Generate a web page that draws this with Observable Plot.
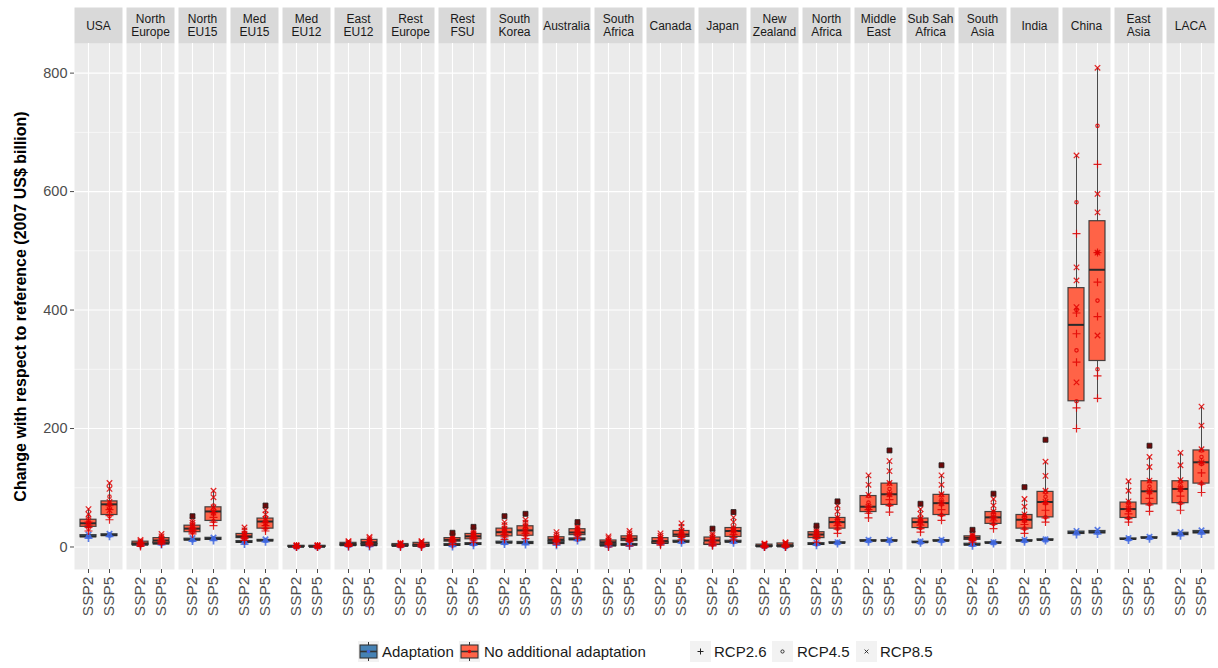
<!DOCTYPE html>
<html>
<head>
<meta charset="utf-8">
<script src="https://cdn.jsdelivr.net/npm/d3@7"></script>
<script src="https://cdn.jsdelivr.net/npm/@observablehq/plot@0.6"></script>
<style>
  html, body { margin: 0; padding: 0; background: #fff; overflow: hidden; width: 1218px; height: 668px; }
  body { font-family: "Liberation Sans", Arial, sans-serif; position: relative; }
  #chart svg { display: block; max-width: none; }
  g[aria-label="y-axis label"] text { font-weight: bold; fill: #000; font-size: 16px; }
  #legend { position: absolute; top: 641px; left: 0; width: 1218px; height: 22px; font-size: 15px; color: #1a1a1a; }
  #legend .key { position: absolute; top: 0; width: 21px; height: 21px; background: #F2F2F2; }
  #legend .lab { position: absolute; top: 2px; white-space: nowrap; line-height: 18px; }
</style>
</head>
<body>
<div id="chart"></div>
<div id="legend"></div>
<script>
// ---------- data ----------
const regions = ["USA","North Europe","North EU15","Med EU15","Med EU12","East EU12","Rest Europe","Rest FSU","South Korea","Australia","South Africa","Canada","Japan","New Zealand","North Africa","Middle East","Sub Sah Africa","South Asia","India","China","East Asia","LACA"];
const regionLabels = ["USA","North\nEurope","North\nEU15","Med\nEU15","Med\nEU12","East\nEU12","Rest\nEurope","Rest\nFSU","South\nKorea","Australia","South\nAfrica","Canada","Japan","New\nZealand","North\nAfrica","Middle\nEast","Sub Sah\nAfrica","South\nAsia","India","China","East\nAsia","LACA"];
const ssps = ["SSP2","SSP5"];
const yTicks = [0, 200, 400, 600, 800];
const yMinorTicks = [100, 300, 500, 700];
const rcps = ["RCP2.6","RCP4.5","RCP8.5"];

// box statistics [whisker low, q1, median, q3, whisker high]; order: region x (SSP2, SSP5)
const noAdaptStats = [
  [27,34,40,46,64],[46,54,72,77,108],
  [1,4,6,9,12],[5,7,11,15,22],
  [22,25,31,36,45],[36,44,60,67,95],
  [11,15,18,22,33],[27,31,43,48,62],
  [0,0.5,1,2,3],[0,0.5,1,2,3],
  [1,3,5,7,10],[2,5,8,12,17],
  [0,2,3,5,7],[0,1,4,7,10],
  [4,9,12,15,19],[8,13,18,22,28],
  [13,18,25,31,42],[14,19,28,35,46],
  [5,10,12.5,16.5,25],[15,20,24.5,30,35],
  [0,5,8,11,18],[2,10,14,18,27],
  [3,6,10,15,23],[12,17,21,27,40],
  [2,4,11,16,23],[12,17,27,32,50],
  [0,0.5,2,4,6],[0,0.5,3,6,8],
  [8,15,21,25,31],[23,31,42,49,70],
  [49,59,68,86,121],[59,71,89,107,145],
  [25,32,42,48,64],[45,54,74,88,121],
  [8,12,15.5,18,22],[31,39,50,59,81],
  [23,31,46,54,81],[42,50,76,93,144],
  [200,246,375,437,661],[251,314,468,550,809],
  [42,49,64,75,111],[60,72,94,111,152],
  [62,74,98,111,159],[92,107,143,163,237]
];
const noAdaptOutliers = [
  null,null, null,null, 52,null, null,70, null,null, null,null, null,null,
  24,34, 52,56, null,42, null,null, null,null, 31,59, null,null,
  36,77, null,163, 73,138, 29,90, 101,181, null,null, null,171, null,null
];
const adaptStats = [
  [15,16.5,18,20,21],[18,18.5,20,21.5,22],
  [3,3,4,5.5,6],[4,4.5,6,7.5,8],
  [10,11,12.5,14,15],[11,12,14,15.5,16],
  [5,7,8.5,10,11],[9,9.5,11,12,13],
  [0,0,0.5,1,1],[0,0,0.5,1,1],
  [1,2,3,4,4],[1,2,3,4.5,5],
  [1,1,2,3,3],[1,1,2,3,3],
  [1,2,3.5,5,5],[3,3.5,5,6.5,7],
  [5,6,7.5,9,10],[4,5,7,8.5,9],
  [3,5,7,9,10],[11,11.5,13,14.5,15],
  [1,1.5,2.5,3.5,4],[2,2.5,4,5,5],
  [5,5.5,7,8.5,9],[7,7.5,9,10.5,11],
  [3,3.5,5,6.5,7],[7,7.5,9,10.5,11],
  [0,0.5,1,1.5,2],[0,0.5,1,1.5,2],
  [3,3.5,5,6.5,7],[6,6,7,8,8],
  [9,9.5,10.5,11.5,12],[9,9.5,10.5,11.5,12],
  [7,7,8,9,9.5],[9,9.5,10.5,11.5,12],
  [2,2.5,4,5.5,6],[6,6,7,8,8],
  [9,9.5,10.5,11.5,12],[11,11,12,13,13],
  [21,22,24,26,27],[22,23,25,27,29],
  [12,12.5,13.5,14.5,15],[14,14.5,15.5,16.5,17],
  [19,20,22,24,25],[22,23,25,27,28]
];

// individual points, No additional adaptation
const noAdaptRcp26 = [
  [27,33,37,42],[46,53,63,70],
  [1,3,5,7],[5,7,9,11],
  [22,25,28,31],[36,42,50,58],
  [11,14,16,19],[27,31,36,41],
  [0,0.5,1,1.5],[0,0.5,1,1.5],
  [1,3,4,5],[2,5,6,8],
  [0,2,3,4],[0,1,3,4],
  [4,8,10,12],[8,12,15,17],
  [13,17,21,24],[14,19,23,27],
  [5,9,11,12],[15,19,22,24],
  [0,4,6,8],[2,9,12,14],
  [3,6,8,10],[12,16,19,21],
  [2,4,7,10],[12,16,21,26],
  [0,0.5,1,2],[0,0.5,2,3],
  [8,14,18,21],[23,30,36,41],
  [49,57,63,68],[59,70,80,89],
  [25,31,37,42],[45,53,63,74],
  [8,11,13,15],[31,38,44,50],
  [23,30,38,45],[42,49,62,75],
  [200,235,312,360,395,529],[251,289,389,447,497,646],
  [42,48,56,64],[60,71,82,94],
  [62,73,86,98],[92,106,125,143]
];
const noAdaptRcp45 = [
  [31,38,44,52],[52,66,74,85],
  [3,5,7,9],[7,10,13,15],
  [25,30,34,38],[44,56,63,70],
  [14,18,21,24],[31,40,45,50],
  [0.5,1,1.5,2],[0.5,1,1.5,2],
  [3,5,6,7],[5,8,10,12],
  [2,3,4,5],[1,4,6,7],
  [9,12,14,15],[13,17,20,22],
  [18,24,28,31],[19,27,31,35],
  [10,12,14,16],[20,24,27,30],
  [5,8,10,11],[10,14,16,18],
  [6,10,13,15],[17,21,25,27],
  [4,10,13,16],[17,26,30,33],
  [0.5,2,3,4],[0.5,3,4,6],
  [15,20,23,25],[31,40,45,49],
  [59,66,75,86],[71,88,98,107],
  [32,41,45,48],[54,72,80,88],
  [12,15,17,18],[39,49,55,59],
  [31,44,50,54],[50,74,85,93],
  [246,332,400,582],[300,416,497,711],
  [49,62,70,75],[72,92,102,111],
  [74,96,104,111],[107,140,152,163]
];
const noAdaptRcp85 = [
  [36,45,55,64],[62,76,98,108],
  [5,8,10,12],[10,14,18,22],
  [30,36,41,45],[58,67,84,95],
  [17,22,28,33],[40,47,55,62],
  [1,2,2.5,3],[1,2,2.5,3],
  [5,7,9,10],[8,12,15,17],
  [3,5,6,7],[4,7,9,10],
  [12,15,17,19],[18,22,25,28],
  [25,31,37,42],[28,35,41,46],
  [12,16,21,25],[24,30,33,35],
  [8,11,15,18],[14,18,23,27],
  [10,15,19,23],[21,27,34,40],
  [11,16,20,23],[27,32,42,50],
  [2,4,5,6],[3,6,7,8],
  [21,25,28,31],[42,50,60,70],
  [68,88,105,121],[89,108,128,145],
  [42,48,56,64],[74,89,105,121],
  [15,18,20,22],[50,60,70,81],
  [46,55,68,81],[76,95,120,144],
  [278,405,450,472,661],[357,497,565,596,809],
  [64,77,95,111],[94,112,135,152],
  [98,113,138,159],[143,165,205,237]
];
// individual points, Adaptation
const adaptRcp26 = [15,18, 3,4, 10,11, 5,9, 0,0, 1,1, 1,1, 1,3, 5,4, 3,11, 1,2, 5,7, 3,7, 0,0, 3,6, 9,9, 7,9, 2,6, 9,11, 21,22, 12,14, 19,22];
const adaptRcp45 = [18,20, 4,6, 12,14, 8,11, 0.5,0.5, 3,3, 2,2, 3,5, 7,7, 7,13, 2,4, 7,9, 5,9, 1,1, 5,7, 10.5,10.5, 8,10.5, 4,7, 10.5,12, 24,25, 13.5,15.5, 22,25];
const adaptRcp85 = [21,22, 6,8, 15,16, 11,13, 1,1, 4,5, 3,3, 5,7, 10,9, 10,15, 4,5, 9,11, 7,11, 2,2, 7,8, 12,12, 9.5,12, 6,8, 12,13, 27,29, 15,17, 25,28];

// ---------- tables built from the arrays ----------
const boxes = [], redPts = [], bluePts = [], outliers = [];
regions.forEach((region, i) => ssps.forEach((ssp, j) => {
  const k = i * 2 + j;
  const a = adaptStats[k], n = noAdaptStats[k];
  boxes.push({region, ssp, type: "Adaptation", lo: a[0], q1: a[1], med: a[2], q3: a[3], hi: a[4]});
  boxes.push({region, ssp, type: "No additional adaptation", lo: n[0], q1: n[1], med: n[2], q3: n[3], hi: n[4]});
  [noAdaptRcp26, noAdaptRcp45, noAdaptRcp85].forEach((arr, r) => arr[k].forEach(value => redPts.push({region, ssp, rcp: rcps[r], value})));
  [adaptRcp26, adaptRcp45, adaptRcp85].forEach((arr, r) => bluePts.push({region, ssp, rcp: rcps[r], value: arr[k]}));
  if (noAdaptOutliers[k] != null) outliers.push({region, ssp, value: noAdaptOutliers[k]});
}));

const fillColor = {"Adaptation": "#4682B4", "No additional adaptation": "#FF6347"};
const symbolOf = {"RCP2.6": "plus", "RCP4.5": "circle", "RCP8.5": "times"};
const rOf = {"RCP2.6": 2.7, "RCP4.5": 1.7, "RCP8.5": 2.6};

function boxMarks(type) {
  const data = boxes.filter(d => d.type === type);
  return [
    Plot.ruleX(data, {fx: "region", x: "ssp", y1: "lo", y2: "q1", stroke: "#4a4a4a", strokeWidth: 1}),
    Plot.ruleX(data, {fx: "region", x: "ssp", y1: "q3", y2: "hi", stroke: "#4a4a4a", strokeWidth: 1}),
    Plot.barY(data, {fx: "region", x: "ssp", y1: "q1", y2: "q3", fill: fillColor[type], stroke: "#333", strokeOpacity: 0.9, strokeWidth: 1.2}),
    Plot.tickY(data, {fx: "region", x: "ssp", y: "med", stroke: "#2a2a2a", strokeWidth: 2})
  ];
}
function pointMarks(data, color, sw) {
  return rcps.map(rcp => Plot.dot(data.filter(d => d.rcp === rcp), {
    fx: "region", x: "ssp", y: "value", symbol: symbolOf[rcp], r: rOf[rcp],
    stroke: color, strokeWidth: sw, fill: "none", strokeOpacity: 0.85
  }));
}

const chart = Plot.plot({
  width: 1221, height: 625,
  marginLeft: 67, marginRight: 0, marginTop: 43, marginBottom: 56,
  style: {fontFamily: "'Liberation Sans', Arial, sans-serif", background: "white", maxWidth: "none"},
  fx: {domain: regions, paddingInner: 0.07, paddingOuter: 0, axis: null, label: null},
  x: {domain: ssps, paddingInner: 0.25, paddingOuter: 0.225, label: null},
  y: {domain: [-38, 850], label: null},
  marks: [
    Plot.frame({fill: "#EBEBEB"}),
    Plot.frame({fill: "#D9D9D9", insetTop: -36, insetBottom: 526}),
    Plot.gridY({ticks: yMinorTicks, stroke: "white", strokeOpacity: 1, strokeWidth: 0.6}),
    Plot.gridY({ticks: yTicks, stroke: "white", strokeOpacity: 1, strokeWidth: 1.1}),
    Plot.gridX({stroke: "white", strokeOpacity: 1, strokeWidth: 1.1}),
    Plot.text(regions, {fx: d => d, text: (d, i) => regionLabels[i], frameAnchor: "top", dy: -18, lineAnchor: "middle", lineHeight: 1.05, fontSize: 12, fill: "#1A1A1A"}),
    ...boxMarks("Adaptation"),
    ...boxMarks("No additional adaptation"),
    ...pointMarks(bluePts, "#4169E1", 1.7),
    ...pointMarks(redPts, "#E00000", 1.2),
    Plot.dot(outliers, {fx: "region", x: "ssp", y: "value", symbol: "square", r: 2.8, fill: "#6e0a0a", stroke: "#222", strokeWidth: 0.8}),
    Plot.axisY({ticks: yTicks, tickSize: 4, tickPadding: 3, fontSize: 14.5, color: "#4D4D4D",
      label: "Change with respect to reference (2007 US$ billion)", labelAnchor: "center", labelOffset: 60, labelArrow: "none"}),
    Plot.axisX({anchor: "bottom", tickSize: 4, tickPadding: 3, tickRotate: -90, fontSize: 15.5, color: "#4D4D4D", label: null})
  ]
});
document.getElementById("chart").appendChild(chart);

// ---------- legend ----------
const legend = document.getElementById("legend");
function boxKey(left, fill, dot) {
  const k = document.createElement("div");
  k.className = "key"; k.style.left = left + "px";
  k.innerHTML = `<svg width="21" height="21"><line x1="10.5" x2="10.5" y1="1" y2="20" stroke="#333" stroke-width="1"/>` +
    `<rect x="2" y="4" width="17" height="13" fill="${fill}" stroke="#333" stroke-width="1.1"/>` +
    `<line x1="2" x2="19" y1="10.5" y2="10.5" stroke="#333" stroke-width="1.6"/>` +
    `<circle cx="10.5" cy="10.5" r="1.7" fill="${dot}"/></svg>`;
  legend.appendChild(k);
}
function symKey(left, sym) {
  const k = document.createElement("div");
  k.className = "key"; k.style.left = left + "px";
  let s = "";
  if (sym === "plus") s = `<path d="M10.5 7.5V13.5M7.5 10.5H13.5" stroke="#222" stroke-width="1"/>`;
  if (sym === "circle") s = `<circle cx="10.5" cy="10.5" r="1.6" fill="none" stroke="#222" stroke-width="0.9"/>`;
  if (sym === "times") s = `<path d="M8.6 8.6L12.4 12.4M12.4 8.6L8.6 12.4" stroke="#222" stroke-width="0.9"/>`;
  k.innerHTML = `<svg width="21" height="21">${s}</svg>`;
  legend.appendChild(k);
}
function label(left, text) {
  const t = document.createElement("div");
  t.className = "lab"; t.style.left = left + "px"; t.textContent = text;
  legend.appendChild(t);
}
boxKey(358, "#4682B4", "#4169E1"); label(382, "Adaptation");
boxKey(459, "#FF6347", "#E00000"); label(484, "No additional adaptation");
symKey(690, "plus"); label(714, "RCP2.6");
symKey(772, "circle"); label(797, "RCP4.5");
symKey(856, "times"); label(880, "RCP8.5");
</script>
</body>
</html>
